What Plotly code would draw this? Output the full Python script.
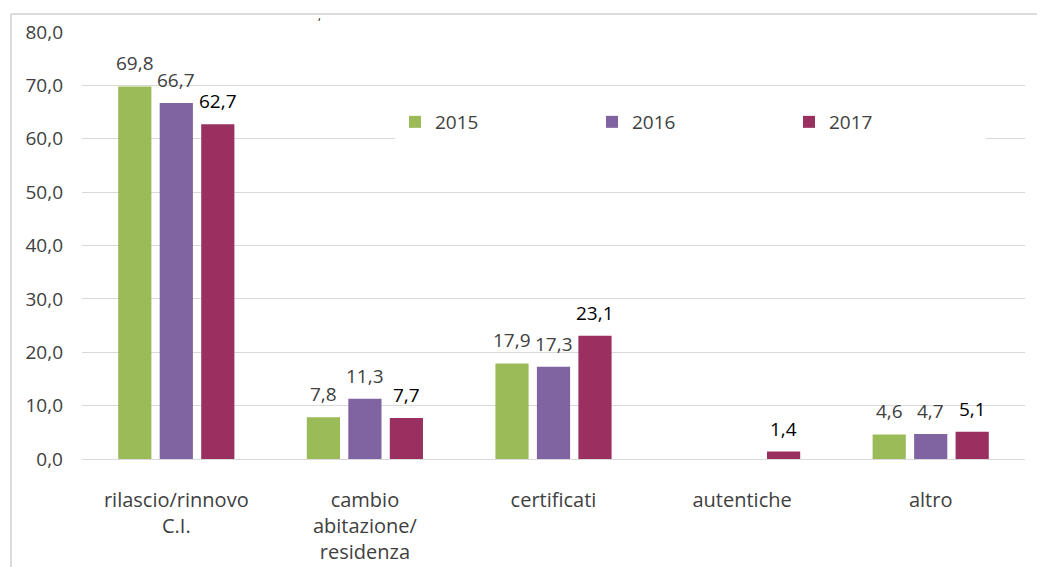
import plotly.graph_objects as go

categories = ["rilascio/rinnovo<br>C.I.", "cambio<br>abitazione/<br>residenza", "certificati", "autentiche", "altro"]
series_names = ["2015", "2016", "2017"]
values_2015 = [69.8, 7.8, 17.9, None, 4.6]
values_2016 = [66.7, 11.3, 17.3, None, 4.7]
values_2017 = [62.7, 7.7, 23.1, 1.4, 5.1]
y_ticks = [0, 10, 20, 30, 40, 50, 60, 70, 80]

all_values = [values_2015, values_2016, values_2017]
colors = ["#9BBB59", "#8064A2", "#9A3060"]
label_colors = ["#404040", "#404040", "#000000"]
FONT = "Open Sans, Noto Sans, sans-serif"

# page has an 8px body margin; the figure is laid out in its own pixel space
W, H = 1037, 559
L, R, T, B = 74, 20, 24, 108
PW, PH = W - L - R, H - T - B


def px_x(x):  # page x -> paper
    return (x - 8 - L) / PW


def px_y(y):  # page y -> paper
    return (H - B - (y - 8)) / PH


fig = go.Figure()
for name, vals, col in zip(series_names, all_values, colors):
    fig.add_trace(go.Bar(name=name, x=categories, y=vals, marker_color=col,
                         marker_line_width=0))

# data labels
annotations = []
for i, (vals, lc) in enumerate(zip(all_values, label_colors)):
    for cat, v in zip(categories, vals):
        if v is None:
            continue
        annotations.append(dict(
            x=cat, y=v, xref="x", yref="y", xshift=(i - 1) * 41.5,
            text=f"{v:.1f}".replace(".", ","), showarrow=False,
            yanchor="bottom", yshift=8,
            font=dict(family=FONT, size=19, color=lc)))

# fragment of the cropped title
annotations.append(dict(x=px_x(316), y=px_y(6), xref="paper", yref="paper",
                        text=",", showarrow=False, font=dict(family=FONT, size=11, color="#000000"),
                        yanchor="top"))

fig.update_layout(
    width=W, height=H,
    margin=dict(l=L, r=R, t=T, b=B, autoexpand=False),
    paper_bgcolor="white", plot_bgcolor="white",
    barmode="group", bargap=0.34, bargroupgap=0.2,
    separators=",.",
    font=dict(family=FONT, size=19, color="#404040"),
    showlegend=True,
    legend=dict(orientation="h", x=px_x(395), xanchor="left", y=px_y(122), yanchor="middle",
                bgcolor="white", font=dict(family=FONT, size=19, color="#404040"),
                entrywidth=152, entrywidthmode="pixels", traceorder="normal"),
    annotations=annotations,
    shapes=[
        dict(type="line", xref="paper", yref="paper",
             x0=px_x(11), x1=1.2, y0=px_y(14), y1=px_y(14),
             line=dict(color="#d0d0d0", width=1.5)),
        dict(type="line", xref="paper", yref="paper",
             x0=px_x(11), x1=px_x(11), y0=px_y(14), y1=-0.4,
             line=dict(color="#d0d0d0", width=1.5)),
    ],
)
fig.update_yaxes(range=[0, 80], tickvals=y_ticks, tickformat=".1f", automargin=False,
                 showgrid=True, gridcolor="#d9d9d9", gridwidth=1,
                 zeroline=True, zerolinecolor="#d9d9d9", zerolinewidth=1,
                 showline=False, ticks="", ticklabelstandoff=18,
                 tickfont=dict(family=FONT, size=19, color="#404040"))
fig.update_xaxes(showgrid=False, showline=False, ticks="", ticklabelstandoff=27, automargin=False,
                 tickfont=dict(family=FONT, size=20, color="#404040"))

fig.write_html("out.html")
